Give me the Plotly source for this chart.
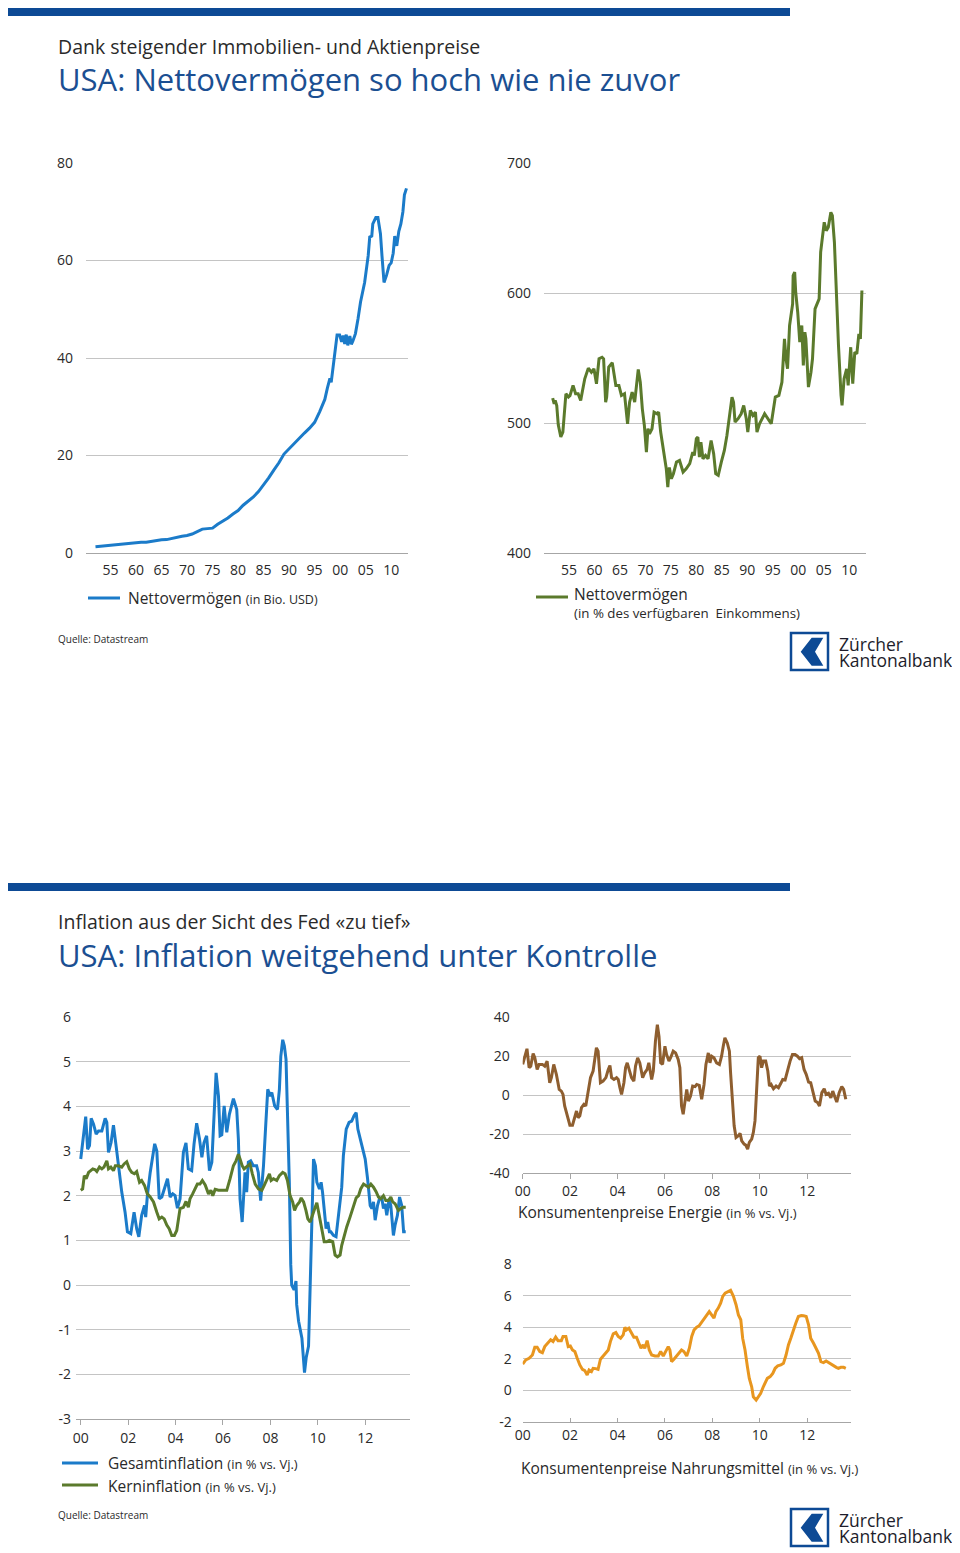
import plotly.graph_objects as go

# page body has an 8px margin: figure is sized and mapped so screen pixels match the reference
OFF = 8
W, H = 960 - OFF, 1553 - OFF
def X(px): return (px - OFF) / W
def Y(py): return 1 - (py - OFF) / H

# ---------------- DATA ----------------
# Net worth (in Bio. USD)
nw_year = [1952.06, 1953, 1954, 1955, 1956, 1957, 1958, 1959, 1960, 1961, 1962, 1963, 1964,
           1965, 1966, 1967, 1968, 1969, 1970, 1971, 1972, 1973, 1974, 1975, 1976, 1977,
           1978, 1979, 1980, 1981, 1982, 1983, 1984, 1985, 1986, 1987, 1988, 1989, 1990,
           1991, 1992, 1993, 1994, 1995, 1996, 1997, 1997.5, 1998, 1998.25, 1998.5, 1998.9,
           1999.4, 1999.9, 2000.3, 2000.6, 2000.9, 2001.2, 2001.5, 2001.9, 2002.2, 2002.5,
           2003.0, 2003.5, 2004.0, 2004.8, 2005.5, 2005.8, 2006.2, 2006.4, 2007.0, 2007.4,
           2007.9, 2008.2, 2008.6, 2009.1, 2009.6, 2010.0, 2010.4, 2010.7, 2011.1, 2011.5,
           2011.9, 2012.3, 2012.6, 2013.0]
nw_bn = [1.3, 1.4, 1.5, 1.65, 1.75, 1.8, 1.9, 2.0, 2.05, 2.2, 2.2, 2.4, 2.55,
         2.7, 2.75, 3.0, 3.3, 3.45, 3.6, 3.9, 4.4, 4.9, 5.0, 5.1, 5.9, 6.5,
         7.2, 8.0, 8.7, 9.8, 10.6, 11.5, 12.6, 13.9, 15.4, 17.0, 18.5, 20.3, 21.4,
         22.6, 23.5, 24.6, 25.6, 26.8, 29.0, 31.5, 33.8, 35.8, 35.0, 37.0, 40.0,
         44.7, 44.7, 43.3, 44.6, 42.9, 44.8, 42.6, 44.5, 42.8, 43.5,
         45.0, 48.0, 51.5, 55.5, 61.0, 64.8, 65.0, 67.5, 68.8, 68.8,
         65.5, 61.0, 55.5, 57.0, 59.0, 59.5, 61.5, 65.0, 63.0, 66.0,
         67.5, 70.0, 73.5, 74.8]

# Net worth (in % of disposable income)
nwp_year = [1951.8, 1952.1, 1952.3, 1952.6, 1952.9, 1953.4, 1953.8, 1954.0, 1954.4, 1954.9,
            1955.2, 1955.8, 1956.3, 1956.8, 1957.3, 1957.6, 1958.1, 1958.8, 1959.4, 1959.9,
            1960.4, 1960.9, 1961.5, 1961.8, 1962.2, 1962.4, 1962.8, 1963.5, 1964.2, 1964.8,
            1965.3, 1965.9, 1966.5, 1966.9, 1967.4, 1967.9, 1968.6, 1969.0, 1969.4, 1969.8,
            1970.2, 1970.5, 1970.8, 1971.3, 1971.7, 1972.3, 1972.6, 1973.0, 1973.6, 1974.1,
            1974.4, 1974.7, 1975.1, 1975.5, 1976.1, 1976.7, 1977.4, 1978.0, 1978.7, 1979.3,
            1979.6, 1980.0, 1980.3, 1980.6, 1980.9, 1981.3, 1981.8, 1982.3, 1982.9, 1983.4,
            1983.8, 1984.3, 1984.9, 1985.5, 1986.0, 1986.5, 1987.0, 1987.3, 1987.6, 1988.2,
            1988.8, 1989.3, 1989.8, 1990.1, 1990.6, 1991.1, 1991.6, 1991.9, 1992.4, 1993.4,
            1994.7, 1995.5, 1996.2, 1996.8, 1997.0, 1997.3, 1997.6, 1997.9, 1998.3, 1998.7,
            1998.9, 1999.0, 1999.3, 1999.5, 1999.9, 2000.3, 2000.7, 2001.0, 2001.3, 2001.5,
            2002.0, 2002.5, 2002.8, 2003.3, 2004.1, 2004.4, 2005.1, 2005.5, 2005.9, 2006.4,
            2006.7, 2007.1, 2007.4, 2007.9, 2008.4, 2008.6, 2009.0, 2009.5, 2009.8, 2010.3,
            2010.7, 2011.1, 2011.5, 2011.9, 2012.2, 2012.5]
nwp_pct = [519.1, 514.8, 517.3, 513.5, 498.6, 489.2, 493.0, 503.0, 522.5, 520.0,
           521.0, 528.9, 522.5, 522.5, 517.3, 523.7, 534.0, 542.2, 539.1, 541.7,
           530.2, 549.4, 550.6, 549.4, 516.0, 519.9, 543.0, 546.3, 528.9, 528.9,
           521.2, 522.5, 499.4, 516.0, 523.7, 516.0, 541.2, 531.4, 510.9, 498.1,
           477.6, 495.6, 491.7, 495.6, 508.4, 507.1, 508.4, 493.0, 477.6, 464.8,
           450.7, 465.8, 457.1, 461.0, 470.0, 471.2, 462.3, 464.8, 468.7, 477.6,
           475.0, 487.9, 489.2, 473.8, 485.3, 472.5, 475.0, 472.5, 486.6, 476.4,
           461.0, 459.7, 469.9, 478.9, 490.4, 503.3, 519.9, 516.0, 500.7, 503.3,
           507.1, 513.5, 503.3, 493.0, 509.7, 505.8, 508.4, 493.0, 499.4, 507.1,
           499.4, 519.9, 521.2, 531.4, 541.7, 564.7, 549.4, 541.7, 575.0, 584.0,
           591.6, 613.4, 616.0, 600.6, 585.2, 562.2, 575.0, 544.3, 569.9, 564.7,
           527.6, 539.1, 549.4, 587.8, 595.5, 631.4, 654.4, 648.0, 650.6, 662.1,
           659.5, 639.0, 603.2, 559.6, 521.2, 513.5, 534.0, 541.7, 528.9, 558.3,
           530.2, 554.5, 553.2, 568.6, 564.7, 601.9]

# Headline inflation (in % vs. Vj.)
hl_year = [2000.00, 2000.11, 2000.21, 2000.29, 2000.37, 2000.44, 2000.54, 2000.65, 2000.75, 2000.89,
           2001.03, 2001.10, 2001.17, 2001.28, 2001.38, 2001.49, 2001.59, 2001.73, 2001.87, 2001.97,
           2002.11, 2002.25, 2002.36, 2002.45, 2002.57, 2002.69, 2002.74, 2002.81, 2002.93, 2003.04,
           2003.12, 2003.21, 2003.31, 2003.42, 2003.56, 2003.66, 2003.77, 2003.88, 2003.98, 2004.08,
           2004.19, 2004.33, 2004.44, 2004.54, 2004.68, 2004.78, 2004.89, 2005.01, 2005.11, 2005.20,
           2005.31, 2005.43, 2005.53, 2005.63, 2005.71, 2005.81, 2005.88, 2005.95, 2006.05, 2006.16,
           2006.27, 2006.44, 2006.58, 2006.65, 2006.72, 2006.81, 2006.93, 2007.00, 2007.07, 2007.17,
           2007.28, 2007.42, 2007.49, 2007.59, 2007.71, 2007.81, 2007.89, 2007.99, 2008.06, 2008.18,
           2008.30, 2008.38, 2008.44, 2008.52, 2008.59, 2008.66, 2008.72, 2008.80, 2008.86, 2008.90,
           2009.00, 2009.08, 2009.11, 2009.19, 2009.33, 2009.44, 2009.51, 2009.61, 2009.68, 2009.75,
           2009.82, 2009.90, 2009.96, 2010.07, 2010.14, 2010.20, 2010.27, 2010.35, 2010.42, 2010.49,
           2010.55, 2010.66, 2010.77, 2010.84, 2010.91, 2011.01, 2011.08, 2011.20, 2011.32, 2011.43,
           2011.53, 2011.62, 2011.69, 2011.76, 2011.86, 2011.93, 2012.00, 2012.10, 2012.21, 2012.28,
           2012.35, 2012.42, 2012.52, 2012.60, 2012.70, 2012.77, 2012.84, 2012.91, 2013.01, 2013.08,
           2013.12, 2013.19, 2013.26, 2013.36, 2013.45, 2013.54, 2013.62, 2013.71]
hl_pct = [2.82, 3.27, 3.77, 3.04, 3.12, 3.73, 3.60, 3.38, 3.45, 3.45,
          3.73, 3.64, 2.97, 3.19, 3.58, 3.12, 2.67, 2.08, 1.63, 1.19,
          1.15, 1.63, 1.26, 1.08, 1.56, 1.78, 1.52, 2.00, 2.52, 2.90,
          3.16, 3.00, 1.93, 1.97, 2.19, 2.38, 1.97, 2.04, 2.00, 1.72,
          1.93, 2.97, 3.18, 2.60, 2.56, 3.16, 3.62, 3.27, 2.86, 3.19,
          3.34, 2.56, 2.75, 3.93, 4.75, 4.23, 3.34, 3.36, 4.01, 3.42,
          3.82, 4.17, 3.93, 3.27, 1.93, 1.41, 2.52, 2.08, 2.75, 2.78,
          2.67, 2.67, 2.52, 1.89, 2.67, 3.64, 4.38, 4.23, 4.31, 4.01,
          3.93, 4.38, 5.12, 5.49, 5.35, 5.05, 4.00, 2.30, 0.45, 0.00,
          -0.11, 0.09, -0.44, -0.81, -1.19, -1.96, -1.63, -1.37, 0.00, 1.34,
          2.82, 2.67, 2.30, 2.15, 2.30, 2.08, 1.71, 1.26, 1.41, 1.19,
          1.19, 1.11, 1.08, 1.41, 1.63, 2.19, 2.90, 3.49, 3.64, 3.67,
          3.79, 3.86, 3.49, 3.34, 3.08, 2.97, 2.82, 2.38, 1.78, 1.71,
          1.86, 1.45, 1.78, 1.93, 1.95, 1.71, 1.82, 1.56, 1.93, 1.78,
          1.52, 1.11, 1.34, 1.56, 1.97, 1.78, 1.19, 1.19]

# Core inflation (in % vs. Vj.)
core_year = [2000.00, 2000.08, 2000.15, 2000.23, 2000.33, 2000.42, 2000.51, 2000.61, 2000.68, 2000.79,
             2000.89, 2000.98, 2001.10, 2001.17, 2001.27, 2001.38, 2001.46, 2001.59, 2001.73, 2001.83,
             2001.94, 2002.05, 2002.15, 2002.26, 2002.36, 2002.48, 2002.57, 2002.69, 2002.81, 2002.93,
             2003.07, 2003.21, 2003.31, 2003.42, 2003.52, 2003.63, 2003.73, 2003.84, 2003.95, 2004.05,
             2004.12, 2004.19, 2004.33, 2004.44, 2004.54, 2004.61, 2004.72, 2004.82, 2004.92, 2005.03,
             2005.13, 2005.25, 2005.32, 2005.39, 2005.49, 2005.57, 2005.67, 2005.81, 2005.95, 2006.16,
             2006.30, 2006.44, 2006.55, 2006.65, 2006.72, 2006.81, 2006.89, 2006.97, 2007.07, 2007.14,
             2007.24, 2007.36, 2007.50, 2007.64, 2007.74, 2007.85, 2007.96, 2008.03, 2008.13, 2008.27,
             2008.38, 2008.52, 2008.62, 2008.72, 2008.83, 2008.94, 2009.02, 2009.11, 2009.23, 2009.30,
             2009.40, 2009.50, 2009.58, 2009.68, 2009.82, 2009.89, 2009.96, 2010.07, 2010.17, 2010.27,
             2010.38, 2010.49, 2010.63, 2010.73, 2010.83, 2010.94, 2011.01, 2011.11, 2011.22, 2011.36,
             2011.50, 2011.62, 2011.72, 2011.81, 2011.93, 2012.04, 2012.14, 2012.24, 2012.35, 2012.46,
             2012.56, 2012.66, 2012.77, 2012.87, 2012.98, 2013.08, 2013.16, 2013.26, 2013.40, 2013.50,
             2013.60, 2013.71]
core_pct = [2.12, 2.15, 2.45, 2.38, 2.52, 2.56, 2.60, 2.58, 2.54, 2.64,
            2.60, 2.64, 2.78, 2.60, 2.64, 2.56, 2.67, 2.67, 2.64, 2.71,
            2.76, 2.60, 2.52, 2.49, 2.54, 2.30, 2.34, 2.23, 2.04, 1.97,
            1.86, 1.63, 1.48, 1.52, 1.48, 1.34, 1.26, 1.11, 1.11, 1.22,
            1.48, 1.71, 1.74, 1.87, 1.74, 1.93, 2.04, 2.15, 2.26, 2.26,
            2.34, 2.24, 2.15, 2.04, 2.12, 2.00, 2.14, 2.12, 2.12, 2.12,
            2.38, 2.67, 2.78, 2.93, 2.82, 2.67, 2.60, 2.64, 2.67, 2.71,
            2.49, 2.26, 2.15, 2.12, 2.23, 2.38, 2.49, 2.34, 2.38, 2.34,
            2.45, 2.52, 2.49, 2.34, 2.00, 1.86, 1.67, 1.78, 1.86, 1.95,
            1.86, 1.67, 1.48, 1.41, 1.60, 1.74, 1.84, 1.56, 1.26, 0.97,
            0.97, 1.00, 0.97, 0.67, 0.63, 0.67, 0.89, 1.11, 1.30, 1.52,
            1.74, 1.95, 2.00, 2.15, 2.26, 2.23, 2.19, 2.26, 2.19, 2.09,
            1.97, 1.93, 2.00, 1.89, 1.89, 1.97, 1.86, 1.82, 1.67, 1.71,
            1.74, 1.74]

# Energy CPI (in % vs. Vj.)
en_year = [2000.00, 2000.08, 2000.18, 2000.27, 2000.34, 2000.44, 2000.51, 2000.61, 2000.69, 2000.83,
           2000.93, 2001.03, 2001.14, 2001.21, 2001.31, 2001.42, 2001.54, 2001.63, 2001.70, 2001.77,
           2001.87, 2001.99, 2002.10, 2002.17, 2002.27, 2002.34, 2002.41, 2002.48, 2002.58, 2002.66,
           2002.76, 2002.86, 2002.97, 2003.04, 2003.11, 2003.18, 2003.28, 2003.39, 2003.51, 2003.61,
           2003.68, 2003.75, 2003.85, 2003.96, 2004.03, 2004.10, 2004.17, 2004.27, 2004.34, 2004.41,
           2004.49, 2004.59, 2004.69, 2004.76, 2004.85, 2004.94, 2005.06, 2005.15, 2005.25, 2005.32,
           2005.44, 2005.51, 2005.60, 2005.68, 2005.75, 2005.82, 2005.90, 2006.00, 2006.07, 2006.17,
           2006.24, 2006.35, 2006.45, 2006.56, 2006.63, 2006.70, 2006.77, 2006.85, 2006.92, 2006.99,
           2007.08, 2007.17, 2007.27, 2007.34, 2007.45, 2007.55, 2007.65, 2007.73, 2007.83, 2007.90,
           2007.97, 2008.07, 2008.18, 2008.30, 2008.39, 2008.46, 2008.53, 2008.63, 2008.72, 2008.77,
           2008.84, 2008.92, 2009.00, 2009.10, 2009.17, 2009.24, 2009.34, 2009.41, 2009.49, 2009.56,
           2009.66, 2009.73, 2009.80, 2009.87, 2009.94, 2010.01, 2010.08, 2010.15, 2010.25, 2010.34,
           2010.41, 2010.48, 2010.58, 2010.69, 2010.79, 2010.89, 2010.97, 2011.07, 2011.17, 2011.28,
           2011.38, 2011.49, 2011.59, 2011.68, 2011.77, 2011.87, 2011.96, 2012.06, 2012.15, 2012.24,
           2012.34, 2012.44, 2012.52, 2012.62, 2012.72, 2012.80, 2012.90, 2013.00, 2013.08, 2013.18,
           2013.25, 2013.35, 2013.46, 2013.54, 2013.63]
en_pct = [15.7, 19.1, 23.7, 14.0, 14.8, 21.3, 19.1, 13.1, 15.7, 15.7,
          14.8, 17.4, 6.3, 8.9, 15.7, 10.6, 2.9, 2.0, 0.3, -5.6,
          -9.9, -15.5, -15.5, -12.4, -8.2, -11.6, -10.7, -6.5, -4.8, -5.6,
          2.9, 8.9, 12.3, 18.2, 24.2, 22.5, 6.3, 7.1, 8.9, 13.1,
          15.1, 8.9, 8.0, 8.9, 8.0, 3.7, 0.3, 6.3, 14.0, 16.5,
          13.1, 8.9, 7.1, 14.8, 19.1, 16.5, 8.9, 11.4, 13.1, 16.5,
          8.0, 12.3, 27.6, 36.1, 30.1, 16.5, 15.7, 25.0, 20.8, 17.4,
          19.1, 22.5, 21.6, 18.2, 14.0, -5.6, -9.9, -2.2, 2.9, -3.1,
          -0.5, 4.6, 4.3, 5.4, 4.9, -2.2, 5.4, 15.7, 21.6, 16.5,
          19.9, 19.1, 16.5, 15.7, 19.9, 25.0, 29.3, 26.7, 22.5, 11.4,
          -3.9, -15.8, -21.8, -20.9, -19.7, -23.5, -25.2, -25.7, -27.7, -24.3,
          -22.6, -19.2, -13.3, 4.6, 19.1, 19.9, 14.0, 17.4, 17.4, 12.3,
          4.6, 5.4, 3.2, 4.6, 3.7, 6.0, 8.0, 7.7, 13.1, 17.4,
          20.8, 20.8, 19.9, 18.6, 19.1, 13.1, 10.6, 6.6, 6.3, 2.0,
          -3.1, -3.9, -5.6, 1.2, 3.2, 0.3, 0.9, -1.4, 2.0, -1.4,
          -3.6, 1.2, 4.3, 2.9, -2.2]

# Food CPI (in % vs. Vj.)
fd_year = [2000.00, 2000.13, 2000.27, 2000.41, 2000.51, 2000.61, 2000.72, 2000.83, 2000.93, 2001.07,
           2001.18, 2001.28, 2001.39, 2001.49, 2001.63, 2001.70, 2001.82, 2001.92, 2002.01, 2002.10,
           2002.20, 2002.30, 2002.41, 2002.52, 2002.62, 2002.72, 2002.80, 2002.90, 2002.97, 2003.08,
           2003.18, 2003.28, 2003.39, 2003.51, 2003.61, 2003.70, 2003.82, 2003.93, 2004.03, 2004.13,
           2004.24, 2004.31, 2004.38, 2004.48, 2004.59, 2004.69, 2004.80, 2004.92, 2004.99, 2005.08,
           2005.15, 2005.25, 2005.34, 2005.44, 2005.58, 2005.72, 2005.82, 2005.93, 2006.04, 2006.14,
           2006.21, 2006.28, 2006.38, 2006.49, 2006.61, 2006.70, 2006.80, 2006.92, 2007.03, 2007.13,
           2007.23, 2007.34, 2007.44, 2007.54, 2007.62, 2007.73, 2007.87, 2007.97, 2008.07, 2008.15,
           2008.25, 2008.35, 2008.44, 2008.54, 2008.68, 2008.77, 2008.89, 2009.00, 2009.10, 2009.20,
           2009.28, 2009.38, 2009.48, 2009.56, 2009.66, 2009.73, 2009.85, 2009.94, 2010.04, 2010.15,
           2010.25, 2010.32, 2010.44, 2010.55, 2010.65, 2010.76, 2010.89, 2011.00, 2011.11, 2011.21,
           2011.31, 2011.42, 2011.52, 2011.63, 2011.75, 2011.85, 2011.96, 2012.06, 2012.15, 2012.27,
           2012.38, 2012.48, 2012.58, 2012.69, 2012.80, 2012.90, 2013.00, 2013.11, 2013.23, 2013.32,
           2013.42, 2013.54, 2013.63]
fd_pct = [1.67, 1.93, 2.03, 2.24, 2.73, 2.73, 2.46, 2.39, 2.77, 2.98,
          3.20, 3.09, 3.37, 3.15, 3.15, 3.41, 3.41, 2.77, 2.81, 2.56,
          2.46, 2.03, 1.61, 1.33, 1.25, 0.97, 1.29, 1.19, 1.40, 1.38,
          1.33, 1.97, 2.18, 2.35, 2.56, 3.09, 3.58, 3.66, 3.41, 3.30,
          3.51, 4.00, 3.83, 3.94, 3.62, 3.37, 3.37, 2.98, 2.67, 2.88,
          2.67, 3.15, 2.56, 2.24, 2.18, 2.18, 2.46, 2.18, 2.46, 2.77,
          2.56, 1.82, 1.97, 2.18, 2.39, 2.56, 2.46, 2.18, 2.67, 3.41,
          3.83, 4.00, 4.08, 4.30, 4.47, 4.72, 4.99, 4.78, 4.57, 4.99,
          5.21, 5.52, 5.95, 6.16, 6.26, 6.33, 5.95, 5.42, 4.78, 4.47,
          3.30, 2.56, 1.50, 0.76, 0.23, -0.40, -0.61, -0.40, -0.19, 0.23,
          0.55, 0.76, 0.87, 1.08, 1.40, 1.55, 1.61, 1.71, 2.24, 2.88,
          3.30, 3.83, 4.25, 4.68, 4.74, 4.72, 4.68, 4.15, 3.30, 2.98,
          2.67, 2.35, 1.82, 1.76, 1.86, 1.76, 1.67, 1.55, 1.46, 1.40,
          1.46, 1.46, 1.40]

lt_years = [1955, 1960, 1965, 1970, 1975, 1980, 1985, 1990, 1995, 2000, 2005, 2010]
lt_labels = ["55", "60", "65", "70", "75", "80", "85", "90", "95", "00", "05", "10"]
st_years = [2000, 2002, 2004, 2006, 2008, 2010, 2012]
st_labels = ["00", "02", "04", "06", "08", "10", "12"]

# ---------------- STYLE ----------------
FONT = "Open Sans"
BLUE = "#1b7bc9"
GREEN = "#5b7a2c"
BROWN = "#8e5e2f"
ORANGE = "#e8961f"
NAVY = "#0d4a95"
TITLE = "#1b4f92"
TXT = "#2a2a2a"
GRID = "#c4c4c4"
AXIS = "#a6a6a6"

fig = go.Figure()
fig.add_trace(go.Scatter(x=nw_year, y=nw_bn, mode="lines", line=dict(color=BLUE, width=3),
                         xaxis="x", yaxis="y", showlegend=False))
fig.add_trace(go.Scatter(x=nwp_year, y=nwp_pct, mode="lines", line=dict(color=GREEN, width=3),
                         xaxis="x2", yaxis="y2", showlegend=False))
fig.add_trace(go.Scatter(x=hl_year, y=hl_pct, mode="lines", line=dict(color=BLUE, width=3),
                         xaxis="x3", yaxis="y3", showlegend=False))
fig.add_trace(go.Scatter(x=core_year, y=core_pct, mode="lines", line=dict(color=GREEN, width=3),
                         xaxis="x3", yaxis="y3", showlegend=False))
fig.add_trace(go.Scatter(x=en_year, y=en_pct, mode="lines", line=dict(color=BROWN, width=3),
                         xaxis="x4", yaxis="y4", showlegend=False))
fig.add_trace(go.Scatter(x=fd_year, y=fd_pct, mode="lines", line=dict(color=ORANGE, width=3),
                         xaxis="x5", yaxis="y5", showlegend=False))

tickfont = dict(family=FONT, size=14, color=TXT)

def xax(x0, x1, rng, tv, tt, anchor, ticks, standoff=0):
    return dict(domain=[X(x0), X(x1)], range=rng, anchor=anchor, tickvals=tv, ticktext=tt,
                showgrid=False, zeroline=False, showline=True, linecolor=AXIS, linewidth=1,
                ticks=ticks, ticklen=5 if ticks == "outside" else 4, tickcolor=AXIS,
                tickfont=tickfont, fixedrange=True, automargin=False, ticklabelstandoff=standoff)

def yax(y0, y1, rng, tv, tt, anchor, standoff):
    return dict(domain=[Y(y1), Y(y0)], range=rng, anchor=anchor, tickvals=tv, ticktext=tt,
                showgrid=True, gridcolor=GRID, gridwidth=1, zeroline=False, showline=False,
                ticks="", tickfont=tickfont, ticklabelstandoff=standoff, fixedrange=True,
                automargin=False)

layout = dict(
    width=W, height=H, margin=dict(l=0, r=0, t=0, b=0, pad=0, autoexpand=False),
    paper_bgcolor="white", plot_bgcolor="white", showlegend=False,
    font=dict(family=FONT, color=TXT),
    xaxis=xax(86, 408, [1950.2, 2013.3], lt_years, lt_labels, "y", "", 4),
    yaxis=yax(163, 553, [0, 80], [0, 20, 40, 60, 80], ["0", "20", "40", "60", "80"], "x", 12),
    xaxis2=xax(544, 866, [1950.1, 2013.3], lt_years, lt_labels, "y2", "", 4),
    yaxis2=yax(163, 553, [400, 700], [400, 500, 600, 700], ["400", "500", "600", "700"], "x2", 12),
    xaxis3=xax(76, 410, [1999.8, 2013.89], st_years, st_labels, "y3", "outside", 1),
    yaxis3=yax(1017, 1419, [-3, 6], list(range(-3, 7)),
               ["-3", "-2", "-1", "0", "1", "2", "3", "4", "5", "6"], "x3", 4),
    xaxis4=xax(522.7, 851, [2000, 2013.85], st_years, st_labels, "y4", "outside"),
    yaxis4=yax(1017, 1173, [-40, 40], [-40, -20, 0, 20, 40], ["-40", "-20", "0", "20", "40"], "x4", 12),
    xaxis5=xax(522.7, 851, [2000, 2013.85], st_years, st_labels, "y5", "inside"),
    yaxis5=yax(1264, 1422, [-2, 8], [-2, 0, 2, 4, 6, 8], ["-2", "0", "2", "4", "6", "8"], "x5", 10),
)
fig.update_layout(**layout)

ann = []
def text(x, y, s, size, color=TXT, anchor="left"):
    ann.append(dict(x=X(x), y=Y(y), xref="paper", yref="paper", text=s, showarrow=False,
                    xanchor=anchor, yanchor="middle", borderpad=0,
                    font=dict(family=FONT, size=size, color=color)))

shapes = []
def rect(x0, y0, x1, y1, fill=None, line=None, lw=0):
    shapes.append(dict(type="rect", xref="paper", yref="paper", x0=X(x0), x1=X(x1),
                       y0=Y(y1), y1=Y(y0), fillcolor=fill if fill else "rgba(0,0,0,0)",
                       line=dict(color=line if line else "rgba(0,0,0,0)", width=lw)))
def hline(x0, x1, y, color, w=3):
    shapes.append(dict(type="line", xref="paper", yref="paper", x0=X(x0), x1=X(x1),
                       y0=Y(y), y1=Y(y), line=dict(color=color, width=w)))

def logo(dy):
    rect(791, 633 + dy, 828, 670 + dy, line=NAVY, lw=2.5)
    pts = [(811.7, 637.7), (823.3, 637.7), (815.0, 651.7), (823.3, 665.7), (811.7, 665.7), (800.7, 651.7)]
    path = "M " + " L ".join(f"{X(px):.5f},{Y(py + dy):.5f}" for px, py in pts) + " Z"
    shapes.append(dict(type="path", xref="paper", yref="paper", path=path,
                       fillcolor=NAVY, line=dict(color=NAVY, width=0)))
    text(838, 644 + dy, "Zürcher", 17.5, "#1d1d2b")
    text(838, 660 + dy, "Kantonalbank", 17.5, "#1d1d2b")

# ---- Panel 1 ----
rect(5, 8, 790, 16, fill=NAVY)
text(57, 46, "Dank steigender Immobilien- und Aktienpreise", 19.5)
text(57, 79, "USA: Nettovermögen so hoch wie nie zuvor", 31, TITLE)
hline(88, 120, 598, BLUE)
text(127, 598, "Nettovermögen <span style='font-size:12.5px'>(in Bio. USD)</span>", 15.5)
hline(536, 568, 597, GREEN)
text(573, 594, "Nettovermögen", 15.5)
text(573, 613, "(in % des verfügbaren  Einkommens)", 13.3)
text(57, 639, "Quelle: Datastream", 10)
logo(0)

# ---- Panel 2 ----
rect(5, 883, 790, 891, fill=NAVY)
text(57, 921, "Inflation aus der Sicht des Fed «zu tief»", 19.5)
text(57, 955, "USA: Inflation weitgehend unter Kontrolle", 31, TITLE)
text(517, 1212, "Konsumentenpreise Energie <span style='font-size:13px'>(in % vs. Vj.)</span>", 15.5)
text(520, 1468, "Konsumentenpreise Nahrungsmittel <span style='font-size:13px'>(in % vs. Vj.)</span>", 15.5)
hline(62, 98, 1463, BLUE)
text(107, 1463, "Gesamtinflation <span style='font-size:13px'>(in % vs. Vj.)</span>", 15.5)
hline(62, 98, 1485, GREEN)
text(107, 1486, "Kerninflation <span style='font-size:13px'>(in % vs. Vj.)</span>", 15.5)
text(57, 1515, "Quelle: Datastream", 10)
logo(876)

fig.update_layout(annotations=ann, shapes=shapes)
fig.write_html("out.html")
